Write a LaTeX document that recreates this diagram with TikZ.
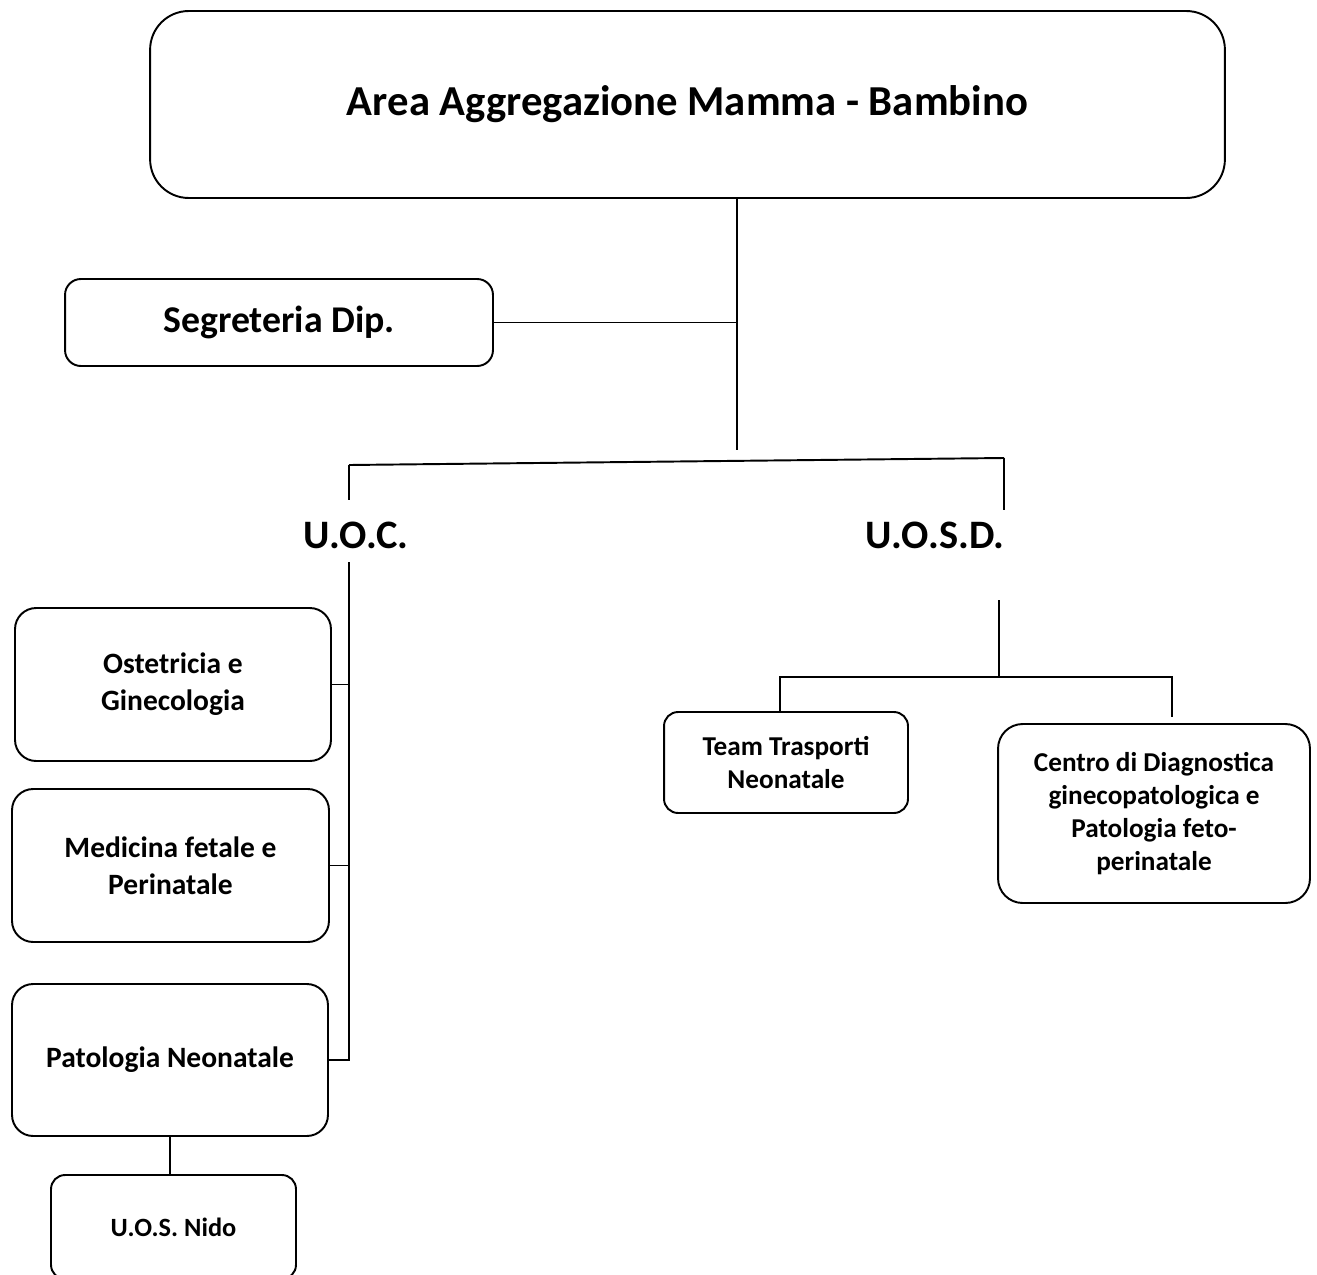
\documentclass[tikz,border=0pt]{standalone}
\usepackage{fontspec}
\setmainfont{Carlito}
\tikzset{
  box/.style={draw, line width=1.1pt, rounded corners=12pt, inner sep=0pt,
    align=center, font=\bfseries},
  lbl/.style={font=\bfseries\fontsize{23}{27}\selectfont, inner sep=0pt},
  wire/.style={line width=1.1pt}
}
\begin{document}
\begin{tikzpicture}[x=0.02cm, y=-0.02cm]
  \useasboundingbox (0,0) rectangle (1317,1274);
  \clip (0,0) rectangle (1317,1274);
  \node[box, rounded corners=22pt, minimum width=21.5cm, minimum height=3.74cm,
    font=\bfseries\fontsize{24.3}{29}\selectfont] (area) at (687.5,104.5) {Area Aggregazione Mamma - Bambino};
  \node[box, rounded corners=9pt, minimum width=8.56cm, minimum height=1.74cm,
    font=\bfseries\fontsize{21.5}{26}\selectfont] (seg) at (279,322.5) {Segreteria Dip.};
  \coordinate (hub) at (737,450);
  \coordinate (bl) at (349,465);
  \coordinate (br) at (1004,458);
  \draw[wire] (hub |- area.south) -- (hub);
  \draw[wire] (seg.east) -- (seg.east -| hub);
  \draw[wire] (bl) -- (br);
  \node[lbl] (uoc) at (356,535) {U.O.C.};
  \node[lbl] (uosd) at (935,535) {U.O.S.D.};
  \draw[wire] (bl) -- (349,500);
  \draw[wire] (br) -- (1004,510);
  % U.O.C.
  \node[box, minimum width=6.32cm, minimum height=3.06cm,
    font=\bfseries\fontsize{16.8}{21}\selectfont] (ost) at (173,684.5) {Ostetricia e\\Ginecologia};
  \node[box, minimum width=6.34cm, minimum height=3.06cm,
    font=\bfseries\fontsize{16.8}{21}\selectfont] (med) at (170.5,865.5) {Medicina fetale e\\Perinatale};
  \node[box, minimum width=6.32cm, minimum height=3.04cm,
    font=\bfseries\fontsize{16.8}{21}\selectfont] (pat) at (170,1060) {Patologia Neonatale};
  \node[box, rounded corners=8pt, minimum width=4.9cm, minimum height=2.08cm,
    font=\bfseries\fontsize{15}{18}\selectfont] (nido) at (173.5,1227) {U.O.S. Nido};
  \coordinate (trunk) at (349,562);
  \draw[wire] (trunk) -- (pat.east -| trunk) -- (pat.east);
  \draw[wire] (ost.east) -- (ost.east -| trunk);
  \draw[wire] (med.east) -- (med.east -| trunk);
  \draw[wire] (pat.south) -- (nido.north -| pat.south);
  % U.O.S.D.
  \node[box, rounded corners=8pt, minimum width=4.88cm, minimum height=2.02cm,
    font=\bfseries\fontsize{15.5}{18.8}\selectfont] (team) at (786,762.5) {Team Trasporti\\Neonatale};
  \node[box, rounded corners=14pt, minimum width=6.24cm, minimum height=3.58cm,
    font=\bfseries\fontsize{15.5}{18.8}\selectfont] (centro) at (1154,813.5)
    {Centro di Diagnostica\\ginecopatologica e\\Patologia feto-\\perinatale};
  \coordinate (fork) at (999,600);
  \coordinate (sl) at (780,677);
  \coordinate (sr) at (1172,677);
  \draw[wire] (fork) -- (fork |- sl);
  \draw[wire] (team.north -| sl) -- (sl) -- (sr) -- (1172,717);
\end{tikzpicture}
\end{document}
